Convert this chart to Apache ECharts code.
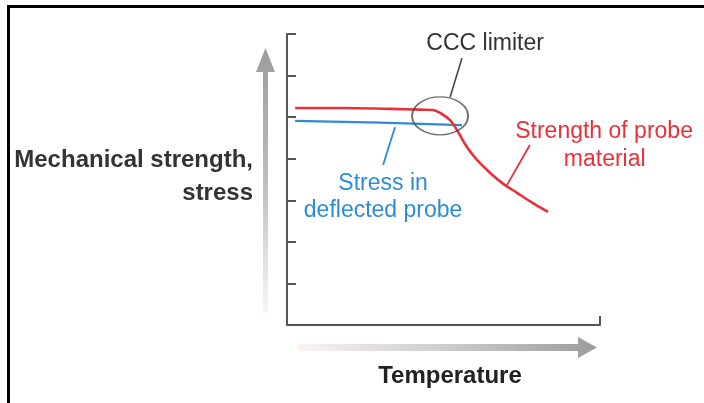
<!DOCTYPE html>
<html><head><meta charset="utf-8">
<script src="https://cdn.jsdelivr.net/npm/echarts@6/dist/echarts.min.js"></script>
<style>html,body{margin:0;padding:0;background:#fff}#c{width:704px;height:403px}</style>
</head><body><div id="c"></div>
<script>
// Strength of probe material (red) — temperature vs strength (arbitrary units)
const strengthX = [0.26,1.69,3.29,4.25,4.66,4.89,5.21,5.43,5.75,6.07,6.49,6.90,7.35,7.86,8.34];
const strengthY = [5.22,5.22,5.20,5.18,5.17,5.10,4.93,4.69,4.28,3.97,3.66,3.40,3.18,2.93,2.72];
// Stress in deflected probe (blue)
const stressX = [0.26,2.97,5.59];
const stressY = [4.91,4.87,4.81];
// CCC limiter highlight (ellipse centre)
const limiterX = [4.89];
const limiterY = [5.03];
// Axis ranges / tick counts
const yTicks = [0,1,2,3,4,5,6,7];
const xRange = [0,10];

const RED = '#e8303b', BLUE = '#2f8bd4', DARK = '#333';
const chart = echarts.init(document.getElementById('c'), null, {renderer:'canvas'});
const axisCommon = {
  axisLine:{show:true, onZero:false, lineStyle:{color:'#555', width:2}},
  axisTick:{show:true, inside:true, length:9, lineStyle:{color:'#555', width:2}},
  axisLabel:{show:false}, splitLine:{show:false}
};
chart.setOption({
  backgroundColor:'#fff',
  animation:false,
  grid:{left:287, right:104, top:34, bottom:78},
  xAxis:Object.assign({type:'value', min:xRange[0], max:xRange[1], interval:xRange[1]-xRange[0]}, axisCommon),
  yAxis:Object.assign({type:'value', min:yTicks[0], max:yTicks[yTicks.length-1], interval:1}, axisCommon),
  series:[
    {type:'line', data:stressX.map((x,i)=>[x,stressY[i]]), showSymbol:false, lineStyle:{color:BLUE, width:2.2}, z:3},
    {type:'line', data:strengthX.map((x,i)=>[x,strengthY[i]]), smooth:0.4, showSymbol:false, lineStyle:{color:RED, width:2.6}, z:4},
    {type:'scatter', data:limiterX.map((x,i)=>[x,limiterY[i]]), symbol:'circle', symbolSize:[56,38],
     itemStyle:{color:'rgba(0,0,0,0)', borderColor:'#4a4a4a', borderWidth:1.6}, z:5, silent:true}
  ]
});

const P = (x,y)=>chart.convertToPixel({gridIndex:0},[x,y]);
function txt(text, pos, font, fill, align){
  return {type:'text', z:10, style:{text, x:pos[0], y:pos[1], font, fill,
    align:align||'center', textAlign:align||'center', verticalAlign:'middle', textVerticalAlign:'middle'}};
}
function seg(a,b,color,w){
  return {type:'line', z:10, shape:{x1:a[0],y1:a[1],x2:b[0],y2:b[1]}, style:{stroke:color, lineWidth:w||1.6}};
}
const F = '"Liberation Sans", Arial, sans-serif';
chart.setOption({graphic:[
  // frame
  {type:'rect', shape:{x:7,y:5,width:697,height:3}, style:{fill:'#000'}},
  {type:'rect', shape:{x:7,y:5,width:3,height:398}, style:{fill:'#000'}},
  // gray arrows
  {type:'polygon', shape:{points:[[263,312],[268,312],[268,72],[275,72],[265.5,48],[256,72],[263,72]]},
   style:{fill:new echarts.graphic.LinearGradient(0,0,0,1,[{offset:0,color:'#9c9c9c'},{offset:0.5,color:'#bdbdbd'},{offset:1,color:'#fcf4f4'}])}},
  {type:'polygon', shape:{points:[[298,344],[578,344],[578,337],[597,347.5],[578,358],[578,351],[298,351]]},
   style:{fill:new echarts.graphic.LinearGradient(0,0,1,0,[{offset:0,color:'#fcf2f2'},{offset:0.45,color:'#d0d0d0'},{offset:1,color:'#9c9c9c'}])}},
  // axis titles
  txt('Mechanical strength,', [253,160], 'bold 24px '+F, DARK, 'right'),
  txt('stress', [253,193], 'bold 24px '+F, DARK, 'right'),
  txt('Temperature', [450,376], 'bold 24px '+F, '#222', 'center'),
  // CCC limiter annotation
  seg(P(5.21,5.48), P(5.59,6.42), '#444', 1.6),
  txt('CCC limiter', P(6.33,6.77), '23px '+F, DARK, 'center'),
  // stress annotation
  seg(P(3.45,4.76), P(3.07,3.85), BLUE, 1.8),
  txt('Stress in', P(3.07,3.39), '23px '+F, BLUE, 'center'),
  txt('deflected probe', P(3.07,2.74), '23px '+F, BLUE, 'center'),
  // strength annotation
  seg(P(7.76,4.33), P(7.03,3.37), RED, 1.8),
  txt('Strength of probe', P(10.13,4.64), '23px '+F, RED, 'center'),
  txt('material', P(10.15,3.97), '23px '+F, RED, 'center')
]});
</script></body></html>
